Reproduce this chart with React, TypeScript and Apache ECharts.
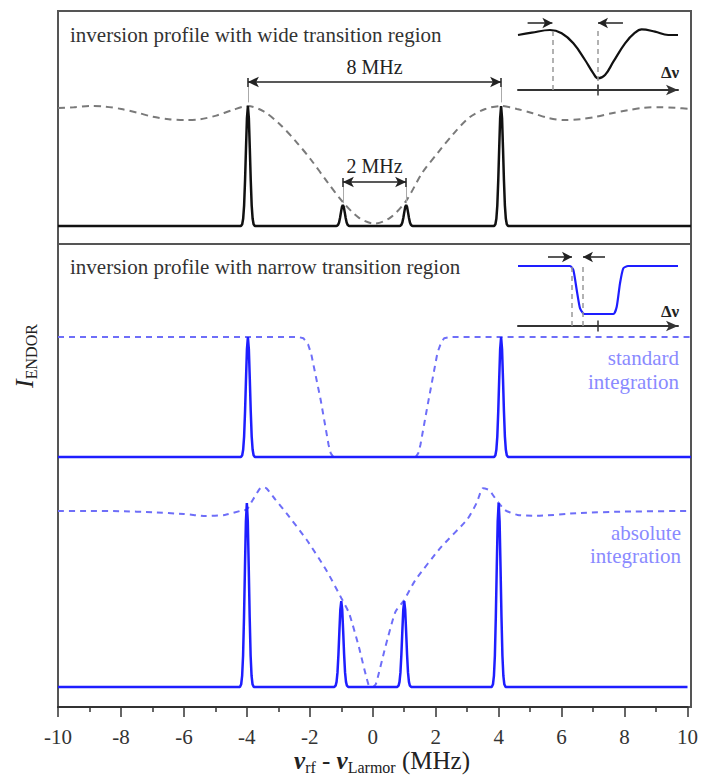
import React, { useEffect, useRef } from "react";
import * as echarts from "echarts";

const FONT = "Liberation Serif";

// ENDOR line positions (MHz) and relative intensities per panel
const peakPositions = [-4, -1, 1, 4];
const topPeakHeights = [1, 0.175, 0.175, 1];
const midPeakHeights = [1, 0, 0, 1];
const botPeakHeights = [1, 0.467, 0.467, 1];
// line shape of a single ENDOR line (offset in MHz, relative height)
const peakOffsets = [-0.22, -0.18, -0.15, -0.12, -0.09, -0.06, -0.03, 0, 0.03, 0.06, 0.09, 0.12, 0.15, 0.18, 0.22];
const peakProfile = [0, 0.015, 0.06, 0.17, 0.38, 0.65, 0.9, 1, 0.9, 0.65, 0.38, 0.17, 0.06, 0.015, 0];

// inversion profile, wide transition region (gray dashed)
const topProfile: [number, number][] = [
  [-10, 0.983], [-9.5, 0.99], [-9, 1.0], [-8.5, 0.995], [-8, 0.975], [-7.5, 0.945], [-7, 0.91],
  [-6.5, 0.89], [-6, 0.883], [-5.5, 0.89], [-5, 0.92], [-4.5, 0.965], [-4, 1.0], [-3.5, 0.955],
  [-3, 0.85], [-2.5, 0.71], [-2, 0.55], [-1.5, 0.37], [-1, 0.2], [-0.5, 0.07], [0, 0.02],
  [0.5, 0.07], [1, 0.21], [1.5, 0.44], [2, 0.61], [2.5, 0.77], [3, 0.905], [3.5, 0.975],
  [4, 1.0], [4.5, 0.975], [5, 0.94], [5.5, 0.9], [6, 0.883], [6.5, 0.89], [7, 0.91],
  [7.5, 0.94], [8, 0.965], [8.5, 0.985], [9, 0.99], [9.5, 0.985], [10, 0.975],
];

// standard integration, narrow transition region (light blue dashed)
const midProfile: [number, number][] = [
  [-10, 1], [-2.4, 1], [-2.25, 0.99], [-2.1, 0.94], [-2.0, 0.86], [-1.7, 0.475], [-1.45, 0.1],
  [-1.38, 0.03], [-1.3, 0], [1.3, 0], [1.38, 0.03], [1.45, 0.1], [1.67, 0.42], [1.99, 0.87],
  [2.1, 0.95], [2.2, 0.99], [2.4, 1], [10, 1],
];

// absolute integration (light blue dashed)
const botProfile: [number, number][] = [
  [-10, 0.957], [-9, 0.957], [-8, 0.955], [-7, 0.95], [-6, 0.94], [-5.3, 0.929], [-4.7, 0.935],
  [-4.2, 0.957], [-4.0, 0.965], [-3.8, 1.02], [-3.6, 1.075], [-3.5, 1.087], [-3.38, 1.08],
  [-3.1, 1.02], [-2.75, 0.946], [-2.1, 0.8], [-1.48, 0.636], [-1.0, 0.484], [-0.75, 0.4],
  [-0.44, 0.217], [-0.13, 0.01], [0, 0], [0.1, 0.016], [0.4, 0.217], [0.72, 0.408], [1.0, 0.473],
  [1.35, 0.58], [2.17, 0.76], [3.0, 0.91], [3.3, 1.0], [3.5, 1.08], [3.7, 1.07], [3.87, 1.03],
  [4.2, 0.962], [4.6, 0.935], [5.2, 0.93], [6.6, 0.946], [8, 0.953], [10, 0.957],
];

// inset curves (arbitrary Δν units)
const inset1Curve: [number, number][] = [
  [-5, 0.917], [-4.14, 0.955], [-3.0, 1.0], [-2.27, 0.945], [-1.54, 0.778], [-0.81, 0.5],
  [-0.29, 0.278], [0, 0.195], [0.44, 0.25], [0.96, 0.472], [1.69, 0.778], [2.31, 0.955],
  [2.73, 1.01], [3.56, 0.972], [4.39, 0.917], [5, 0.917],
];
const inset2Curve: [number, number][] = [
  [-5, 1.0], [-1.75, 1.0], [-1.54, 0.933], [-1.33, 0.6], [-1.125, 0.295], [-0.92, 0.21],
  [-0.8, 0.2], [0.96, 0.2], [1.17, 0.32], [1.375, 0.71], [1.58, 0.96], [1.875, 1.0], [5, 1.0],
];

// annotation values
const wideSplit = [-4, 4];
const narrowSplit = [-1, 1];
const wideLabel = "8 MHz";
const narrowLabel = "2 MHz";

function spectrum(heights: number[]): [number, number][] {
  const pts: [number, number][] = [[-10, 0]];
  peakPositions.forEach((p, i) => {
    if (heights[i] <= 0) return;
    peakOffsets.forEach((o, j) => pts.push([p + o, heights[i] * peakProfile[j]]));
  });
  pts.push([10, 0]);
  return pts;
}

const BLACK = "#111";
const GRAY = "#7a7a7a";
const BLUE = "#1e1eff";
const LBLUE = "#6e6ef8";
const LTEXT = "#8a8aff";

function txt(x: number, y: number, text: string, size: number, fill: string, extra: any = {}, styleExtra: any = {}) {
  return {
    type: "text", x, y, ...extra,
    style: { text, fill, fontSize: size, fontFamily: FONT, verticalAlign: "middle", ...styleExtra },
  };
}

export default function App() {
  const ref = useRef<HTMLDivElement>(null);
  useEffect(() => {
    document.body.style.margin = "0";
    const chart = echarts.init(ref.current!, undefined, { renderer: "svg" });
    const L = 58, W = 633;
    const hiddenX = (gi: number) => ({ type: "value", gridIndex: gi, min: -10, max: 10, show: false });
    const insetX = (gi: number) => ({
      type: "value", gridIndex: gi, min: -5, max: 5,
      axisLine: { show: true, onZero: true, symbol: ["none", "arrow"], symbolSize: [8, 12], lineStyle: { color: "#333", width: 2 } },
      axisTick: { show: false }, axisLabel: { show: false }, splitLine: { show: false },
    });
    const hiddenY = (gi: number, min: number, max: number) => ({ type: "value", gridIndex: gi, min, max, show: false });

    const option: any = {
      animation: false,
      textStyle: { fontFamily: FONT },
      grid: [
        { left: L, top: 11, width: W, height: 233 },
        { left: L, top: 244, width: W, height: 231 },
        { left: L, top: 475, width: W, height: 232 },
        { left: 518, top: 18, width: 160, height: 81 },
        { left: 518, top: 254, width: 160, height: 81 },
      ],
      xAxis: [
        hiddenX(0),
        hiddenX(1),
        {
          type: "value", gridIndex: 2, min: -10, max: 10, interval: 2,
          axisLine: { show: true, onZero: false, lineStyle: { color: "#333", width: 2 } },
          axisTick: { show: true, inside: false, length: 10, lineStyle: { color: "#333", width: 1.5 } },
          minorTick: { show: true, splitNumber: 2, length: 5, lineStyle: { color: "#333", width: 1.5 } },
          axisLabel: { fontSize: 21, color: "#333", fontFamily: FONT, margin: 19 },
          splitLine: { show: false },
        },
        insetX(3),
        insetX(4),
      ],
      yAxis: [
        hiddenY(0, -0.15, 1.7917),
        hiddenY(1, -0.15, 1.775),
        hiddenY(2, -0.1087, 1.152),
        hiddenY(3, -0.15, 1.2),
        hiddenY(4, -0.15, 1.2),
      ],
      series: [
        {
          type: "line", xAxisIndex: 0, yAxisIndex: 0, data: topProfile, smooth: 0.3, showSymbol: false, z: 2,
          lineStyle: { color: GRAY, width: 2, type: [7, 5] },
        },
        {
          type: "line", xAxisIndex: 0, yAxisIndex: 0, data: spectrum(topPeakHeights), showSymbol: false, z: 3,
          lineStyle: { color: BLACK, width: 2.5 },
        },
        // annotation arrows
        {
          type: "line", xAxisIndex: 0, yAxisIndex: 0, data: [], z: 4,
          markLine: {
            silent: true, symbol: ["arrow", "arrow"], symbolSize: [8, 11], label: { show: false },
            lineStyle: { color: "#222", width: 1.5, type: "solid" },
            data: [
              [{ coord: [wideSplit[0], 1.2] }, { coord: [wideSplit[1], 1.2] }],
              [{ coord: [narrowSplit[0], 0.367] }, { coord: [narrowSplit[1], 0.367] }],
            ],
          },
          markPoint: {
            symbol: "circle", symbolSize: 1, itemStyle: { color: "rgba(0,0,0,0)" },
            label: { show: true, position: "inside", formatter: "{b}", color: "#222", fontSize: 20, fontFamily: FONT },
            data: [
              { name: wideLabel, coord: [0, 1.325] },
              { name: narrowLabel, coord: [0, 0.5] },
            ],
          },
        },
        {
          type: "line", xAxisIndex: 0, yAxisIndex: 0, data: [], z: 4,
          markLine: {
            silent: true, symbol: ["none", "none"], label: { show: false },
            lineStyle: { color: "#222", width: 1.5, type: "solid" },
            data: [
              [{ coord: [wideSplit[0], 1.233] }, { coord: [wideSplit[0], 1.158] }],
              [{ coord: [wideSplit[1], 1.233] }, { coord: [wideSplit[1], 1.158] }],
              [{ coord: [narrowSplit[0], 0.4] }, { coord: [narrowSplit[0], 0.325] }],
              [{ coord: [narrowSplit[1], 0.4] }, { coord: [narrowSplit[1], 0.325] }],
            ],
          },
        },
        {
          type: "line", xAxisIndex: 0, yAxisIndex: 0, data: [], z: 4,
          markLine: {
            silent: true, symbol: ["none", "none"], label: { show: false },
            lineStyle: { color: "#aaa", width: 1, type: "solid" },
            data: [
              [{ coord: [wideSplit[0], 1.158] }, { coord: [wideSplit[0], 1.03] }],
              [{ coord: [wideSplit[1], 1.158] }, { coord: [wideSplit[1], 1.03] }],
              [{ coord: [narrowSplit[0], 0.325] }, { coord: [narrowSplit[0], 0.19] }],
              [{ coord: [narrowSplit[1], 0.325] }, { coord: [narrowSplit[1], 0.19] }],
            ],
          },
        },
        // middle panel
        {
          type: "line", xAxisIndex: 1, yAxisIndex: 1, data: midProfile, showSymbol: false, z: 2,
          lineStyle: { color: LBLUE, width: 2, type: [6, 5] },
        },
        {
          type: "line", xAxisIndex: 1, yAxisIndex: 1, data: spectrum(midPeakHeights), showSymbol: false, z: 3,
          lineStyle: { color: BLUE, width: 2.5 },
        },
        // bottom panel
        {
          type: "line", xAxisIndex: 2, yAxisIndex: 2, data: botProfile, smooth: 0.2, showSymbol: false, z: 2,
          lineStyle: { color: LBLUE, width: 2, type: [6, 5] },
        },
        {
          type: "line", xAxisIndex: 2, yAxisIndex: 2, data: spectrum(botPeakHeights), showSymbol: false, z: 3,
          lineStyle: { color: BLUE, width: 2.5 },
        },
        // inset 1
        {
          type: "line", xAxisIndex: 3, yAxisIndex: 3, data: inset1Curve, smooth: 0.4, showSymbol: false, z: 3,
          lineStyle: { color: BLACK, width: 2.2 },
          markLine: {
            silent: true, symbol: ["none", "none"], label: { show: false },
            lineStyle: { color: "#999", width: 1.5, type: [5, 4] },
            data: [
              [{ coord: [-2.85, 0] }, { coord: [-2.85, 1.0] }],
              [{ coord: [0, 0] }, { coord: [0, 1.0] }],
            ],
          },
        },
        {
          type: "line", xAxisIndex: 3, yAxisIndex: 3, data: [], z: 4,
          markLine: {
            silent: true, symbol: ["none", "arrow"], symbolSize: [8, 10], label: { show: false },
            lineStyle: { color: "#222", width: 1.5, type: "solid" },
            data: [
              [{ coord: [-4.4, 1.117] }, { coord: [-2.85, 1.117] }],
              [{ coord: [1.56, 1.117] }, { coord: [0, 1.117] }],
            ],
          },
        },
        {
          type: "line", xAxisIndex: 3, yAxisIndex: 3, data: [], z: 4,
          markLine: {
            silent: true, symbol: ["none", "none"], label: { show: false },
            lineStyle: { color: "#333", width: 1.5, type: "solid" },
            data: [[{ coord: [0, -0.09] }, { coord: [0, 0.09] }]],
          },
        },
        // inset 2
        {
          type: "line", xAxisIndex: 4, yAxisIndex: 4, data: inset2Curve, smooth: 0.2, showSymbol: false, z: 3,
          lineStyle: { color: BLUE, width: 2.2 },
          markLine: {
            silent: true, symbol: ["none", "none"], label: { show: false },
            lineStyle: { color: "#999", width: 1.5, type: [5, 4] },
            data: [
              [{ coord: [-1.625, 0] }, { coord: [-1.625, 1.0] }],
              [{ coord: [-0.94, 0] }, { coord: [-0.94, 1.0] }],
            ],
          },
        },
        {
          type: "line", xAxisIndex: 4, yAxisIndex: 4, data: [], z: 4,
          markLine: {
            silent: true, symbol: ["none", "arrow"], symbolSize: [8, 10], label: { show: false },
            lineStyle: { color: "#222", width: 1.5, type: "solid" },
            data: [
              [{ coord: [-3.125, 1.15] }, { coord: [-1.625, 1.15] }],
              [{ coord: [0.44, 1.15] }, { coord: [-0.94, 1.15] }],
            ],
          },
        },
        {
          type: "line", xAxisIndex: 4, yAxisIndex: 4, data: [], z: 4,
          markLine: {
            silent: true, symbol: ["none", "none"], label: { show: false },
            lineStyle: { color: "#333", width: 1.5, type: "solid" },
            data: [[{ coord: [0, -0.09] }, { coord: [0, 0.09] }]],
          },
        },
      ],
      graphic: [
        { type: "rect", z: 0, shape: { x: 58, y: 11, width: 633, height: 233 }, style: { fill: "none", stroke: "#555", lineWidth: 2 } },
        { type: "rect", z: 0, shape: { x: 58, y: 244, width: 633, height: 463 }, style: { fill: "none", stroke: "#555", lineWidth: 2 } },
        txt(70, 35, "inversion profile with wide transition region", 21, "#333"),
        txt(70, 267, "inversion profile with narrow transition region", 21, "#333"),
        txt(679, 370, "standard\nintegration", 21, LTEXT, {}, { align: "right", lineHeight: 24 }),
        txt(681, 544, "absolute\nintegration", 21, LTEXT, {}, { align: "right", lineHeight: 23 }),
        txt(670, 72, "Δν", 17, "#222", {}, { align: "center", fontWeight: "bold" }),
        txt(670, 311, "Δν", 17, "#222", {}, { align: "center", fontWeight: "bold" }),
        {
          type: "text", x: 382, y: 760,
          style: {
            text: "{nu|ν}{sub|rf}{t| - }{nu|ν}{sub|Larmor}{t| (MHz)}",
            align: "center", verticalAlign: "middle", fill: "#222",
            rich: {
              nu: { fontSize: 25, fontStyle: "italic", fontWeight: "bold", fontFamily: FONT, lineHeight: 30, fill: "#222" },
              t: { fontSize: 25, fontFamily: FONT, lineHeight: 30, fill: "#222" },
              sub: { fontSize: 16, fontFamily: FONT, lineHeight: 16, verticalAlign: "bottom", fill: "#222" },
            },
          },
        },
        {
          type: "text", x: 24, y: 356, rotation: Math.PI / 2,
          style: {
            text: "{i|I}{s|ENDOR}",
            align: "center", verticalAlign: "middle", fill: "#222",
            rich: {
              i: { fontSize: 26, fontStyle: "italic", fontFamily: FONT, lineHeight: 30, fill: "#222" },
              s: { fontSize: 16, fontFamily: FONT, lineHeight: 16, verticalAlign: "bottom", fill: "#222" },
            },
          },
        },
      ],
    };
    chart.setOption(option);
    return () => chart.dispose();
  }, []);
  return <div ref={ref} style={{ width: 701, height: 779 }} />;
}
